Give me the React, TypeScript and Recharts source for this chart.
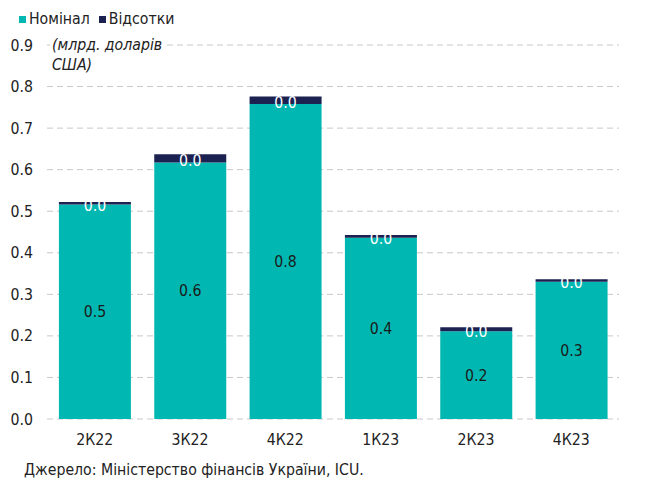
import React from "react";
import { BarChart, Bar, XAxis, YAxis, CartesianGrid, LabelList } from "recharts";

const categories = ["2К22", "3К22", "4К22", "1К23", "2К23", "4К23"];
const nominal = [0.516, 0.617, 0.758, 0.436, 0.211, 0.330];
const interest = [0.006, 0.020, 0.018, 0.007, 0.010, 0.006];
const yTicks = [0, 0.1, 0.2, 0.3, 0.4, 0.5, 0.6, 0.7, 0.8, 0.9];
const boundaryTicks = [0, 1, 2, 3, 4, 5, 6];
const seriesNames = ["Номінал", "Відсотки"];
const unitLines = ["(млрд. доларів", "США)"];
const sourceText = "Джерело: Міністерство фінансів України, ICU.";

const TEAL = "#00b8b1";
const NAVY = "#1b2151";
const FONT = "'Liberation Sans Narrow', 'DejaVu Sans Condensed', 'Liberation Sans', Arial, sans-serif";
const FS = 15.7;

const data = categories.map((c, i) => ({ cat: c, nominal: nominal[i], interest: interest[i] }));

const fmt = (v: any) => Number(v).toFixed(1);

export default function App() {
  return (
    <div style={{ position: "absolute", left: 0, top: 0, width: 653, height: 481, background: "#fff", fontFamily: FONT }}>
      <BarChart
        width={653}
        height={481}
        data={data}
        margin={{ top: 45, right: 34, bottom: 32, left: 0 }}
        barCategoryGap="12.5%"
      >
        <CartesianGrid xAxisId="cat" vertical={false} stroke="#c8c8c8" strokeDasharray="6 4" />
        <XAxis
          xAxisId="b"
          type="number"
          domain={[0, 6]}
          ticks={boundaryTicks}
          height={0}
          tick={false}
          tickSize={4}
          axisLine={{ stroke: "#000", strokeWidth: 1.6 }}
          tickLine={{ stroke: "#000", strokeWidth: 1.6 }}
        />
        <XAxis
          xAxisId="cat"
          dataKey="cat"
          height={30}
          axisLine={false}
          tickLine={false}
          tickSize={0}
          tickMargin={15}
          tick={{ fill: "#222", fontSize: FS, fontFamily: FONT }}
        />
        <YAxis
          domain={[0, 0.9]}
          ticks={yTicks}
          width={47}
          axisLine={false}
          tickLine={false}
          tickSize={0}
          tickMargin={14}
          tickFormatter={fmt}
          tick={{ fill: "#222", fontSize: FS, fontFamily: FONT }}
        />
        <Bar xAxisId="cat" dataKey="nominal" name={seriesNames[0]} stackId="a" fill={TEAL} isAnimationActive={false}>
          <LabelList dataKey="nominal" position="center" formatter={fmt} fill="#1a1a1a" fontSize={FS} fontFamily={FONT} />
        </Bar>
        <Bar xAxisId="cat" dataKey="interest" name={seriesNames[1]} stackId="a" fill={NAVY} isAnimationActive={false}>
          <LabelList dataKey="interest" position="center" formatter={fmt} fill="#ffffff" fontSize={FS} fontFamily={FONT} dy={2} />
        </Bar>
      </BarChart>

      <div style={{ position: "absolute", left: 19, top: 9, display: "flex", alignItems: "center", fontSize: FS, color: "#222", lineHeight: "20px" }}>
        <span style={{ display: "inline-block", width: 7, height: 7, background: TEAL, marginRight: 3 }} />
        <span style={{ marginRight: 9 }}>{seriesNames[0]}</span>
        <span style={{ display: "inline-block", width: 7, height: 7, background: NAVY, marginRight: 3 }} />
        <span>{seriesNames[1]}</span>
      </div>

      <div style={{ position: "absolute", left: 50, top: 35, padding: "0 2px", background: "#fff", fontStyle: "italic", fontSize: FS, lineHeight: "20px", color: "#222" }}>
        <div>{unitLines[0]}</div>
        <div>{unitLines[1]}</div>
      </div>

      <div style={{ position: "absolute", left: 24, top: 459, fontSize: FS, lineHeight: "22px", color: "#222" }}>
        {sourceText}
      </div>
    </div>
  );
}
